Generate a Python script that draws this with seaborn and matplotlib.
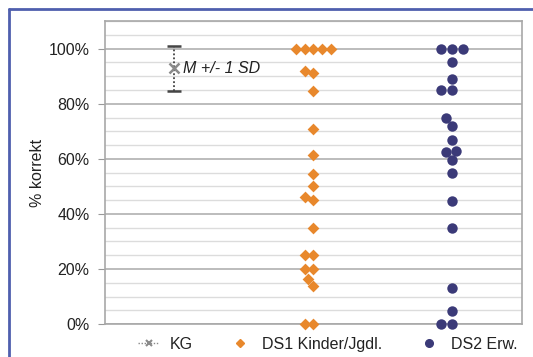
import pandas as pd
import seaborn as sns
import matplotlib.pyplot as plt
from matplotlib.lines import Line2D
from matplotlib.ticker import MultipleLocator, PercentFormatter

# values (percent correct)
groups = ['KG', 'DS1 Kinder/Jgdl.', 'DS2 Erw.']
kg_mean = 92.8
kg_sd = 8.3
ds1_values = [100, 100, 100, 100, 100, 91, 92, 84.5, 71, 61.5, 54.5, 50,
              45, 46, 35, 25, 25, 20, 20, 16.5, 14, 0, 0]
ds2_values = [100, 100, 100, 95, 89, 85, 85, 75, 72, 66.7, 62.4, 63, 59.4,
              55, 44.7, 35, 13, 4.8, 0, 0]

orange = '#E8882C'
navy = '#3B3A78'

sns.set_style('white')
plt.rcParams['font.family'] = ['Liberation Sans', 'DejaVu Sans']

fig = plt.figure(figsize=(5.33, 3.57), dpi=100)
ax = fig.add_axes([0.197, 0.092, 0.782, 0.849])

ds1 = pd.DataFrame({'group': groups[1], 'value': ds1_values})
ds2 = pd.DataFrame({'group': groups[2], 'value': ds2_values})

sns.swarmplot(data=ds1, x='group', y='value', order=groups, marker='D',
              color=orange, size=6, linewidth=0, ax=ax, clip_on=False, zorder=3)
sns.swarmplot(data=ds2, x='group', y='value', order=groups, marker='o',
              color=navy, size=7.5, linewidth=0, ax=ax, clip_on=False, zorder=3)

# control group: mean +/- 1 SD
eb = ax.errorbar(0, kg_mean, yerr=kg_sd, fmt='x', color='#8a8a8a', markersize=7,
                 mew=1.8, ecolor='#444444', elinewidth=1.3, capsize=5, capthick=2,
                 zorder=4)
eb[2][0].set_linestyle((0, (1, 1.2)))
ax.text(0.06, kg_mean, 'M +/- 1 SD', fontsize=11.5, fontstyle='italic',
        va='center', ha='left', color='#222222')

ax.set_xlim(-0.5, 2.5)
ax.set_ylim(0, 110)
ax.yaxis.set_minor_locator(MultipleLocator(5))
ax.yaxis.set_major_formatter(PercentFormatter(decimals=0))
ax.set_yticks([0, 20, 40, 60, 80, 100])
ax.grid(which='minor', axis='y', color='#dcdcdc', lw=1)
ax.grid(which='major', axis='y', color='#b0b0b0', lw=1.2)
ax.set_axisbelow(True)
ax.tick_params(axis='y', which='major', left=True, length=5, color='#999999',
               labelsize=11.5, pad=6, labelcolor='#222222')
ax.tick_params(axis='y', which='minor', left=False)
ax.set_xticks([])
ax.set_xlabel('')
ax.set_ylabel('% korrekt', fontsize=11.5, color='#222222', labelpad=3)
for s in ax.spines.values():
    s.set_color('#a8a8a8')
    s.set_linewidth(1.2)

handles = [
    Line2D([], [], color='#8a8a8a', ls=(0, (1, 1.2)), lw=1, marker='x',
           markersize=5, mew=1.5),
    Line2D([], [], color=orange, ls='none', marker='D', markersize=4.5),
    Line2D([], [], color=navy, ls='none', marker='o', markersize=5.5),
]
fig.legend(handles, groups, loc='center', bbox_to_anchor=(0.615, 0.035), ncol=3,
           frameon=False, fontsize=11.5, handlelength=1.3, handletextpad=0.7,
           columnspacing=2.3, labelcolor='#222222')

# blue frame edge of the original figure
fig.add_artist(Line2D([8.5 / 533, 8.5 / 533], [0, 1 - 9 / 357], color='#4f5fae', lw=2))
fig.add_artist(Line2D([8.5 / 533, 1], [1 - 9 / 357, 1 - 9 / 357], color='#4f5fae', lw=2))

fig.savefig('out.png', dpi=100)
